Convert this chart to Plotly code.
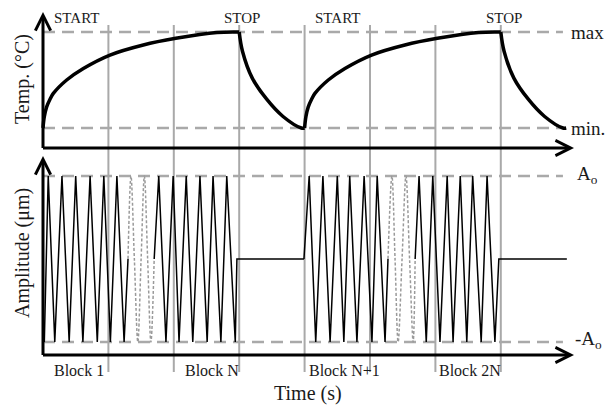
import plotly.graph_objects as go

# ---------------------------------------------------------------
# Data (time in s, temperature normalised min=0 / max=1,
# amplitude normalised to A_o)
# ---------------------------------------------------------------
block_edges = [1, 2, 3, 4, 5, 6, 7]
block_labels = ["Block 1", "Block N", "Block N+1", "Block 2N"]
block_label_t = [0.14, 2.14, 4.04, 6.03]

cycle_start = [0.0, 4.0]
cycle_stop = [3.0, 7.0]

# heating (START -> STOP), relative to the cycle start
heat_t = [0.0, 0.02, 0.056, 0.107, 0.158, 0.362, 0.617, 1.024, 1.534, 2.03, 2.66, 3.0]
heat_T = [0.0, 0.118, 0.22, 0.30, 0.36, 0.5, 0.62, 0.76, 0.865, 0.934, 0.995, 1.0]
# free cooling after STOP, relative to the stop time
cool_t = [0.0, 0.05, 0.2, 0.42, 0.67, 0.95, 1.0]
cool_T = [1.0, 0.8, 0.52, 0.3, 0.12, 0.0, 0.0]

# excitation amplitude: turning points of the drawn runs
run1_t = [0.02, 0.08, 0.18, 0.29, 0.40, 0.50, 0.61, 0.72, 0.83, 0.93, 1.03, 1.13, 1.24, 1.30]
run1_a = [-1, 1, -1, 1, -1, 1, -1, 1, -1, 1, -1, 1, -1, 0]
# omitted cycles (sketched as a smooth dashed wave)
gap1_t = [1.30, 1.345, 1.397, 1.45, 1.50, 1.55, 1.60, 1.65, 1.70]
gap1_a = [0, 1, 0, -1, 0, 1, 0, -1, 0]
run2_t = [1.70, 1.77, 1.88, 1.99, 2.08, 2.19, 2.29, 2.40, 2.51, 2.60, 2.72, 2.81, 2.94, 2.965, 3.99]
run2_a = [0, 1, -1, 1, -1, 1, -1, 1, -1, 1, -1, 1, -1, 0, 0]
run3_t = [3.99, 4.07, 4.17, 4.28, 4.39, 4.50, 4.60, 4.69, 4.80, 4.91, 5.03, 5.11, 5.23, 5.275]
run3_a = [0, 1, -1, 1, -1, 1, -1, 1, -1, 1, -1, 1, -1, 0]
gap2_t = [5.275, 5.335, 5.383, 5.43, 5.49, 5.55, 5.605, 5.66, 5.69]
gap2_a = [0, 1, 0, -1, 0, 1, 0, -1, 0]
run4_t = [5.69, 5.75, 5.86, 5.96, 6.07, 6.18, 6.27, 6.38, 6.48, 6.57, 6.70, 6.79, 6.91, 6.97, 8.01]
run4_a = [0, 1, -1, 1, -1, 1, -1, 1, -1, 1, -1, 1, -1, 0, 0]

temp_levels = [1.0, 0.0]
temp_level_labels = ["max", "min."]
amp_levels = [1.0, -1.0]
amp_level_labels = ["A<sub>o</sub>", "-A<sub>o</sub>"]
level_end = 7.95

# ---------------------------------------------------------------
# Figure geometry
# ---------------------------------------------------------------
W, H = 605, 405
X0, PX_PER_S = 43.0, 65.4            # time axis origin and scale (px)
x_range = [(0 - X0) / PX_PER_S, (W - X0) / PX_PER_S]

SPLIT = 160.0                          # px boundary between panels
T_MIN_PX, T_PX = 128.0, 96.0           # temperature: min line, px per unit
A_MID_PX, A_PX = 259.0, 83.0           # amplitude: zero line, px per unit


def t_of(px):
    return (px - X0) / PX_PER_S


def T_of(py):
    return (T_MIN_PX - py) / T_PX


def A_of(py):
    return (A_MID_PX - py) / A_PX


FONT = "Liberation Serif, Times New Roman, serif"
INK = "#1a1a1a"
GREY = "#a9a9a9"

fig = go.Figure()

# temperature curve
for t0, ts in zip(cycle_start, cycle_stop):
    fig.add_trace(go.Scatter(
        x=[t0 + v for v in heat_t], y=heat_T, mode="lines",
        line=dict(color="black", width=3.5, shape="spline", smoothing=1.0),
        yaxis="y", hoverinfo="skip"))
    fig.add_trace(go.Scatter(
        x=[ts + v for v in cool_t], y=cool_T, mode="lines",
        line=dict(color="black", width=3.5, shape="spline", smoothing=1.0),
        yaxis="y", hoverinfo="skip"))

# amplitude: drawn runs and omitted cycles
for rt, ra in [(run1_t, run1_a), (run2_t, run2_a), (run3_t, run3_a), (run4_t, run4_a)]:
    fig.add_trace(go.Scatter(
        x=rt, y=ra, mode="lines",
        line=dict(color="black", width=1.5),
        yaxis="y2", hoverinfo="skip"))
for gt, ga in [(gap1_t, gap1_a), (gap2_t, gap2_a)]:
    fig.add_trace(go.Scatter(
        x=gt, y=ga, mode="lines",
        line=dict(color="#9a9a9a", width=1.5, dash="3px,2px", shape="spline", smoothing=1.0),
        yaxis="y2", hoverinfo="skip"))

shapes = []
# block boundaries spanning both panels
for e in block_edges:
    shapes.append(dict(type="line", xref="x", yref="paper", x0=e, x1=e,
                       y0=1 - 372 / H, y1=1 - 25 / H, layer="below",
                       line=dict(color=GREY, width=2)))
# reference levels
for lv in temp_levels:
    shapes.append(dict(type="line", xref="x", yref="y", x0=0, x1=level_end, y0=lv, y1=lv,
                       layer="below", line=dict(color=GREY, width=2.5, dash="12px,7px")))
for lv in amp_levels:
    shapes.append(dict(type="line", xref="x", yref="y2", x0=0, x1=level_end, y0=lv, y1=lv,
                       layer="below", line=dict(color=GREY, width=2.5, dash="12px,7px")))

annotations = []


def arrow(x, y, ax, ay, yref):
    annotations.append(dict(x=x, y=y, ax=ax, ay=ay, xref="x", yref=yref,
                            axref="x", ayref=yref, text="", showarrow=True,
                            arrowhead=5, arrowsize=1.0, arrowwidth=3,
                            arrowcolor="black", standoff=0))


# axes with arrow heads
x_tip = t_of(574)
x_tail = t_of(X0 - 1.5)
arrow(0, T_of(12), 0, T_of(149.5), "y")
arrow(x_tip, T_of(148), x_tail, T_of(148), "y")
arrow(0, A_of(156), 0, A_of(356.5), "y2")
arrow(x_tip, A_of(355), x_tail, A_of(355), "y2")


def label(text, x, y, yref, size, xanchor="left", xref="x"):
    annotations.append(dict(text=text, x=x, y=y, xref=xref, yref=yref,
                            xanchor=xanchor, yanchor="middle", showarrow=False,
                            font=dict(family=FONT, size=size, color=INK)))


for t0, ts in zip(cycle_start, cycle_stop):
    label("START", t0 + 0.13, T_of(18), "y", 15)
    label("STOP", ts - 0.26, T_of(18), "y", 15)

for lv, txt in zip(temp_levels, temp_level_labels):
    label(txt, t_of(569), lv, "y", 19)
for lv, txt, dy in zip(amp_levels, amp_level_labels, [-1.5 / A_PX, -2 / A_PX]):
    label(txt, t_of(575) if txt.startswith("A") else t_of(573), lv - dy, "y2", 19)

for txt, bt in zip(block_labels, block_label_t):
    label(txt, bt, A_of(370), "y2", 16)

label("Time (s)", t_of(308), A_of(393), "y2", 20, xanchor="center")

for txt, py in [("Temp. (°C)", 79), ("Amplitude (μm)", 253)]:
    annotations.append(dict(text=txt, x=22 / W, y=1 - py / H, xref="paper", yref="paper",
                            xanchor="center", yanchor="middle", textangle=-90,
                            showarrow=False,
                            font=dict(family=FONT, size=20, color=INK)))

fig.update_layout(
    width=W, height=H,
    margin=dict(l=0, r=0, t=0, b=0),
    paper_bgcolor="white", plot_bgcolor="white",
    showlegend=False,
    xaxis=dict(range=x_range, visible=False, fixedrange=True),
    yaxis=dict(domain=[1 - SPLIT / H, 1], range=[T_of(SPLIT), T_of(0)],
               visible=False, fixedrange=True),
    yaxis2=dict(domain=[0, 1 - SPLIT / H], range=[A_of(H), A_of(SPLIT)],
                visible=False, fixedrange=True),
    shapes=shapes,
    annotations=annotations,
)

fig.write_html("out.html")
